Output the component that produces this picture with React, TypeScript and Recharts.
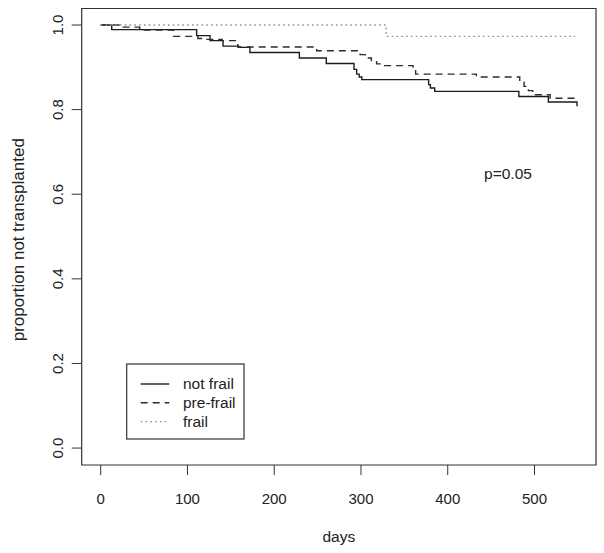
import React from 'react';
import { LineChart, Line, XAxis, YAxis, ReferenceArea, Label } from 'recharts';

// ---- data ----
const notFrailDays = [0, 12.7, 110.6, 126, 141, 159, 172, 229, 260, 292, 295, 298, 301, 378, 380, 385, 482, 516, 549];
const notFrailSurv = [1.0, 0.989, 0.975, 0.963, 0.95, 0.947, 0.935, 0.922, 0.909, 0.895, 0.884, 0.877, 0.871, 0.859, 0.851, 0.843, 0.831, 0.818, 0.808];

const preFrailDays = [0, 24, 45, 84, 112, 120, 140, 158, 249, 299, 305, 312, 318, 324, 360, 363, 433, 483, 488, 493, 498, 518, 549];
const preFrailSurv = [1.0, 0.995, 0.988, 0.973, 0.968, 0.966, 0.963, 0.948, 0.939, 0.93, 0.922, 0.913, 0.908, 0.904, 0.894, 0.884, 0.877, 0.865, 0.855, 0.845, 0.835, 0.827, 0.823];

const frailDays = [0, 329, 547];
const frailSurv = [1.0, 0.973, 0.973];

const xTicks = [0, 100, 200, 300, 400, 500];
const yTicks = [0, 0.2, 0.4, 0.6, 0.8, 1.0];

const seriesNames = ['not frail', 'pre-frail', 'frail'];
const pValueText = 'p=0.05';

const toRows = (days: number[], surv: number[]) => days.map((t, i) => ({ t, s: surv[i] }));

const FONT = '"Liberation Sans", Arial, Helvetica, sans-serif';
const INK = '#222';

const styles = [
  { stroke: '#1c1c1c', dash: undefined as string | undefined, width: 1.4 },
  { stroke: '#2c2c2c', dash: '7 5', width: 1.4 },
  { stroke: '#8f8f8f', dash: '1.6 3.2', width: 1.4 },
];

const YTick = (p: any) => {
  const x = p.x - 8.3;
  const y = p.y;
  return (
    <text x={x} y={y} transform={`rotate(-90, ${x}, ${y})`} textAnchor="middle" fontFamily={FONT} fontSize={15} fill={INK}>
      {Number(p.payload.value).toFixed(1)}
    </text>
  );
};

const XTick = (p: any) => (
  <text x={p.x} y={p.y + 28.5} textAnchor="middle" fontFamily={FONT} fontSize={15} fill={INK}>
    {p.payload.value}
  </text>
);

export default function App() {
  const series = [
    toRows(notFrailDays, notFrailSurv),
    toRows(preFrailDays, preFrailSurv),
    toRows(frailDays, frailSurv),
  ];
  return (
    <div style={{ position: 'absolute', left: 0, top: 0, width: 604, height: 553, background: '#fff' }}>
      <LineChart width={604} height={553} margin={{ top: 8.5, right: 8, bottom: 8, left: 11.7 }}>
        <XAxis
          type="number"
          dataKey="t"
          domain={[-21.9, 570.9]}
          ticks={xTicks}
          allowDataOverflow
          axisLine={false}
          tickLine={{ stroke: '#333' }}
          tickSize={10}
          tickMargin={0}
          height={80}
          tick={<XTick />}
        >
          <Label
            content={(props: any) => {
              const vb = props.viewBox;
              return (
                <text x={vb.x + vb.width / 2} y={vb.y + 77} textAnchor="middle" fontFamily={FONT} fontSize={15.5} fill={INK}>
                  days
                </text>
              );
            }}
          />
        </XAxis>
        <YAxis
          type="number"
          domain={[-0.04, 1.039]}
          ticks={yTicks}
          allowDataOverflow
          axisLine={false}
          tickLine={{ stroke: '#333' }}
          tickSize={10}
          tickMargin={0}
          width={70}
          tick={<YTick />}
        >
          <Label
            content={(props: any) => {
              const vb = props.viewBox;
              const x = vb.x + 12;
              const y = vb.y + vb.height / 2 + 3;
              return (
                <text x={x} y={y} transform={`rotate(-90, ${x}, ${y})`} textAnchor="middle" fontFamily={FONT} fontSize={17} fill={INK}>
                  proportion not transplanted
                </text>
              );
            }}
          />
        </YAxis>
        <ReferenceArea x1={-21.9} x2={570.9} y1={-0.04} y2={1.039} fill="none" stroke="#333" strokeWidth={1.2} ifOverflow="visible" />
        {series.map((rows, i) => (
          <Line
            key={seriesNames[i]}
            name={seriesNames[i]}
            data={rows}
            dataKey="s"
            type="stepAfter"
            stroke={styles[i].stroke}
            strokeWidth={styles[i].width}
            strokeDasharray={styles[i].dash}
            dot={false}
            activeDot={false}
            isAnimationActive={false}
          />
        ))}
      </LineChart>
      <svg width={604} height={553} style={{ position: 'absolute', left: 0, top: 0, pointerEvents: 'none' }}>
        <text x={508} y={178.5} textAnchor="middle" fontFamily={FONT} fontSize={15.5} fill={INK}>
          {pValueText}
        </text>
        <rect x={126.7} y={364} width={117.3} height={75} fill="none" stroke="#333" strokeWidth={1.2} />
        {seriesNames.map((name, i) => {
          const cy = 384 + i * 18.8;
          return (
            <g key={name}>
              <line x1={140.7} x2={169.3} y1={cy} y2={cy} stroke={styles[i].stroke} strokeWidth={styles[i].width} strokeDasharray={styles[i].dash} />
              <text x={183} y={cy + 5.4} fontFamily={FONT} fontSize={15.5} fill={INK}>
                {name}
              </text>
            </g>
          );
        })}
      </svg>
    </div>
  );
}
